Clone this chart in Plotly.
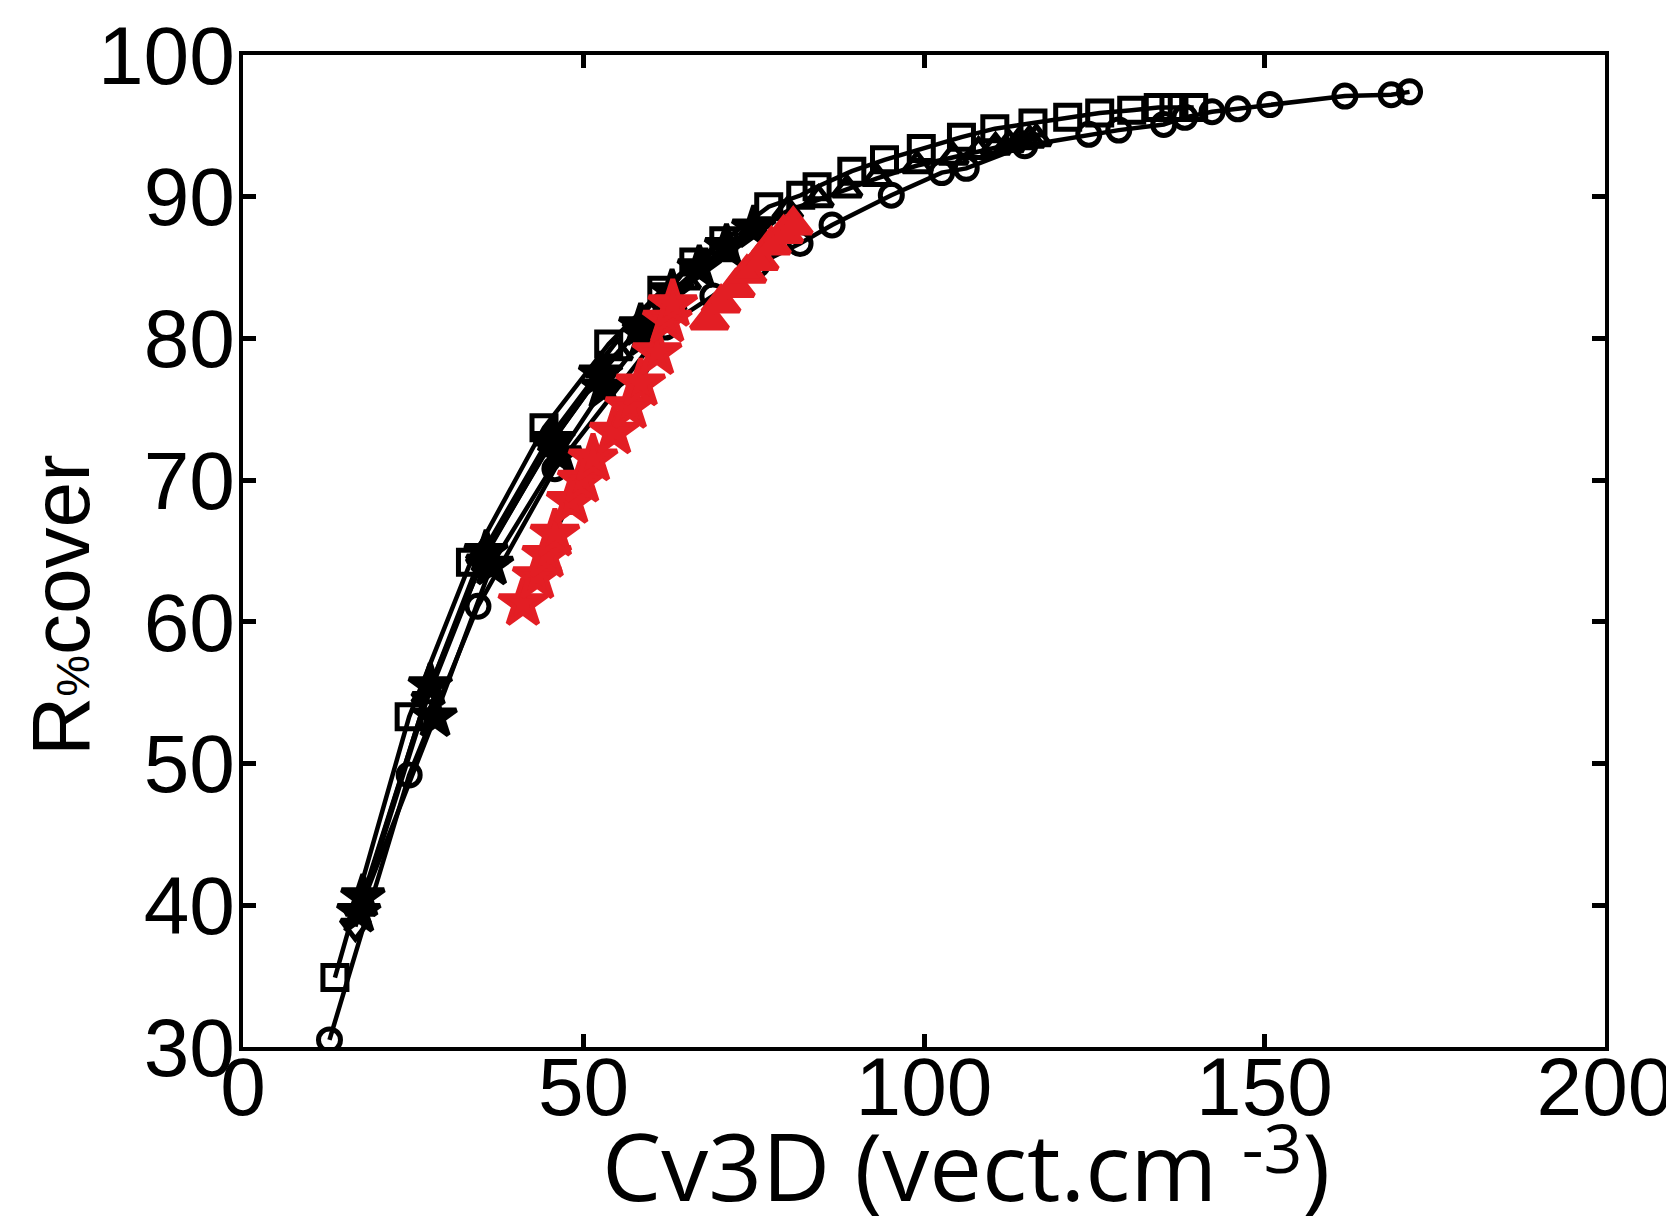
import plotly.graph_objects as go

# open circles
circ_x = [12.7, 24.4, 34.5, 45.8, 62.0, 69.0, 75.5, 81.8, 86.5, 95.2, 102.6, 106.2,
          114.8, 124.2, 128.6, 135.2, 138.3, 142.3, 146.1, 150.8, 161.8, 168.6, 171.3]
circ_y = [30.5, 49.2, 61.1, 70.8, 80.8, 83.0, 85.2, 86.7, 88.0, 90.1, 91.7, 92.0,
          93.6, 94.4, 94.7, 95.1, 95.6, 96.0, 96.2, 96.5, 97.1, 97.2, 97.4]

# open squares
sq_x = [13.5, 24.4, 33.4, 44.2, 53.7, 61.5, 66.2, 70.6, 77.2, 81.9, 84.3, 89.4,
        94.2, 99.6, 105.5, 110.4, 116.0, 121.1, 125.8, 130.5, 134.4, 136.7, 139.6]
sq_y = [34.9, 53.3, 64.2, 73.7, 79.6, 83.4, 85.4, 86.9, 89.3, 90.1, 90.7, 91.8,
        92.6, 93.4, 94.2, 94.8, 95.2, 95.6, 95.9, 96.1, 96.3, 96.3, 96.3]

# open up-triangles
tri_x = [17.2, 27.0, 35.0, 45.0, 52.5, 55.0, 60.0, 65.0, 70.0, 75.0, 80.0, 84.5,
         88.7, 93.1, 99.0, 104.3, 108.0, 110.5, 112.5, 114.0, 115.5, 116.5]
tri_y = [39.8, 54.8, 64.7, 73.0, 77.8, 79.0, 81.6, 84.0, 86.0, 87.7, 89.0, 89.8,
         90.5, 91.3, 92.2, 92.8, 93.2, 93.5, 93.7, 93.9, 94.0, 94.1]

# open down-triangles
tdn_x = [16.5, 27.0, 35.0, 45.0, 52.5, 58.0]
tdn_y = [38.5, 54.5, 64.2, 72.5, 77.5, 80.6]

# filled black stars, two runs
st1_x = [17.6, 27.5, 35.7, 45.5, 52.5, 58.4, 63.0, 67.0, 71.0, 75.0]
st1_y = [40.6, 55.5, 64.9, 72.8, 77.5, 80.9, 83.3, 85.0, 86.5, 87.8]
st2_x = [17.0, 28.2, 36.5, 46.5, 53.0, 59.0]
st2_y = [39.5, 53.3, 64.0, 71.8, 76.5, 80.2]

# red stars
rst_x = [41.1, 43.2, 44.6, 45.8, 48.2, 49.8, 51.4, 54.5, 56.8, 58.4, 60.8, 62.3, 63.1]
rst_y = [61.3, 63.2, 64.7, 66.2, 68.5, 70.0, 71.5, 73.4, 75.2, 76.8, 79.0, 81.3, 82.4]

# red triangles
rtr_x = [68.5, 70.2, 72.3, 74.0, 75.8, 77.6, 79.4, 80.8]
rtr_y = [81.3, 82.5, 83.6, 84.6, 85.5, 86.6, 87.4, 88.0]

RED = '#E31E24'
fig = go.Figure()


def add(x, y, symbol, size, color='black', fill=None, lw=4.5):
    fig.add_trace(go.Scatter(
        x=x, y=y, mode='lines+markers',
        line=dict(color='black', width=lw),
        marker=dict(symbol=symbol, size=size,
                    color=fill if fill else color,
                    line=dict(color=color, width=5)),
        showlegend=False))


add(circ_x, circ_y, 'circle-open', 22)
add(sq_x, sq_y, 'square-open', 24)
add(tri_x, tri_y, 'triangle-up-open', 25)
add(tdn_x, tdn_y, 'triangle-down-open', 25)
add(st1_x, st1_y, 'star', 32, fill='black')
add(st2_x, st2_y, 'star', 32, fill='black')
add(rst_x, rst_y, 'star', 36, color=RED, fill=RED, lw=3)
add(rtr_x, rtr_y, 'triangle-up', 32, color=RED, fill=RED, lw=3)

tickfont = dict(family='Liberation Sans, Arial', size=82, color='black')
axis = dict(showline=True, linewidth=3.5, linecolor='black', mirror='allticks',
            ticks='inside', ticklen=13, tickwidth=5, tickcolor='black',
            showgrid=False, zeroline=False, tickfont=tickfont,
            ticklabeloverflow='allow', automargin=False)

fig.update_xaxes(range=[0, 200], dtick=50, ticklabelstandoff=-34, **axis)
fig.update_yaxes(range=[30, 100], dtick=10, ticklabelstandoff=-12, **axis)

fig.add_annotation(
    xref='paper', yref='paper', x=0.5, y=0, xshift=42, yshift=-117,
    xanchor='center', yanchor='middle', showarrow=False,
    text='Cv3D (vect.cm <span style="font-size:68px;baseline-shift:28px">-3</span>)',
    font=dict(family='Open Sans', size=94, color='black'))

fig.add_annotation(
    xref='paper', yref='paper', x=0, y=0.5, xshift=-183, yshift=-54,
    xanchor='center', yanchor='middle', showarrow=False, textangle=-90,
    text='R<span style="font-size:47px">%</span>cover',
    font=dict(family='Liberation Sans, Arial', size=82, color='black'))

fig.update_layout(
    width=1674, height=1228,
    margin=dict(l=235, r=77, t=47, b=189, autoexpand=False),
    paper_bgcolor='white', plot_bgcolor='white')

fig.write_html('out.html')
